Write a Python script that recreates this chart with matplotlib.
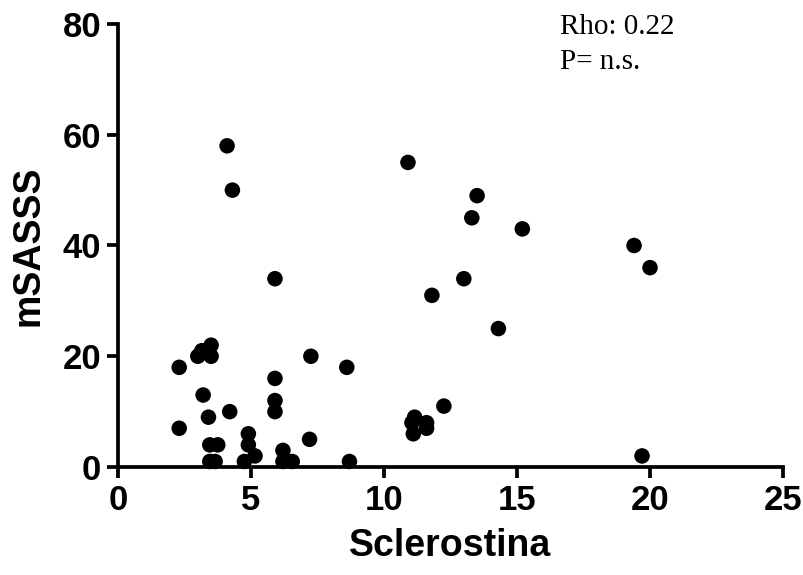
import numpy as np
import matplotlib.pyplot as plt

# Sclerostina vs mSASSS
sclerostina = [2.3, 2.3, 3.0, 3.15, 3.5, 3.5, 3.2, 3.4, 4.2, 3.45, 3.75, 3.45, 3.65,
               4.75, 4.9, 4.9, 5.15, 5.9, 5.9, 5.9, 6.2, 6.2, 6.55, 7.25, 7.2, 8.6, 8.7,
               4.1, 4.3, 5.9, 10.9, 13.5, 13.3, 15.2, 13.0, 11.8, 14.3, 19.4, 20.0, 19.7,
               12.25, 11.15, 11.05, 11.6, 11.6, 11.1]
msasss = [18, 7, 20, 21, 22, 20, 13, 9, 10, 4, 4, 1, 1,
          1, 6, 4, 2, 16, 12, 10, 3, 1, 1, 20, 5, 18, 1,
          58, 50, 34, 55, 49, 45, 43, 34, 31, 25, 40, 36, 2,
          11, 9, 8, 8, 7, 6]

xticks = [0, 5, 10, 15, 20, 25]
yticks = [0, 20, 40, 60, 80]

plt.rcParams['font.family'] = ['Liberation Sans']
plt.rcParams['font.weight'] = 'bold'

fig = plt.figure(figsize=(8.04, 5.75), dpi=100)
ax = fig.add_axes([0.1468, 0.1878, 0.8271, 0.7705])

ax.scatter(sclerostina, msasss, s=125, c="black", edgecolors="none", clip_on=False, zorder=3)

ax.set_xlim(0, 25)
ax.set_ylim(0, 80)
ax.set_xticks(xticks)
ax.set_yticks(yticks)
for s in ["top", "right"]:
    ax.spines[s].set_visible(False)
for s in ["left", "bottom"]:
    ax.spines[s].set_linewidth(2.7)
ax.tick_params(width=2.7, length=8, labelsize=25, pad=4)
for lab in ax.get_xticklabels() + ax.get_yticklabels():
    lab.set_fontweight("bold")

ax.set_xlabel("Sclerostina", fontsize=27, fontweight="bold", labelpad=8)
ax.set_ylabel("mSASSS", fontsize=27, fontweight="bold", labelpad=12)

fig.text(0.697, 0.94, "Rho: 0.22", family="Liberation Serif", fontweight="normal", fontsize=21)
fig.text(0.697, 0.88, "P= n.s.", family="Liberation Serif", fontweight="normal", fontsize=21)

fig.savefig("out.png", dpi=100)
